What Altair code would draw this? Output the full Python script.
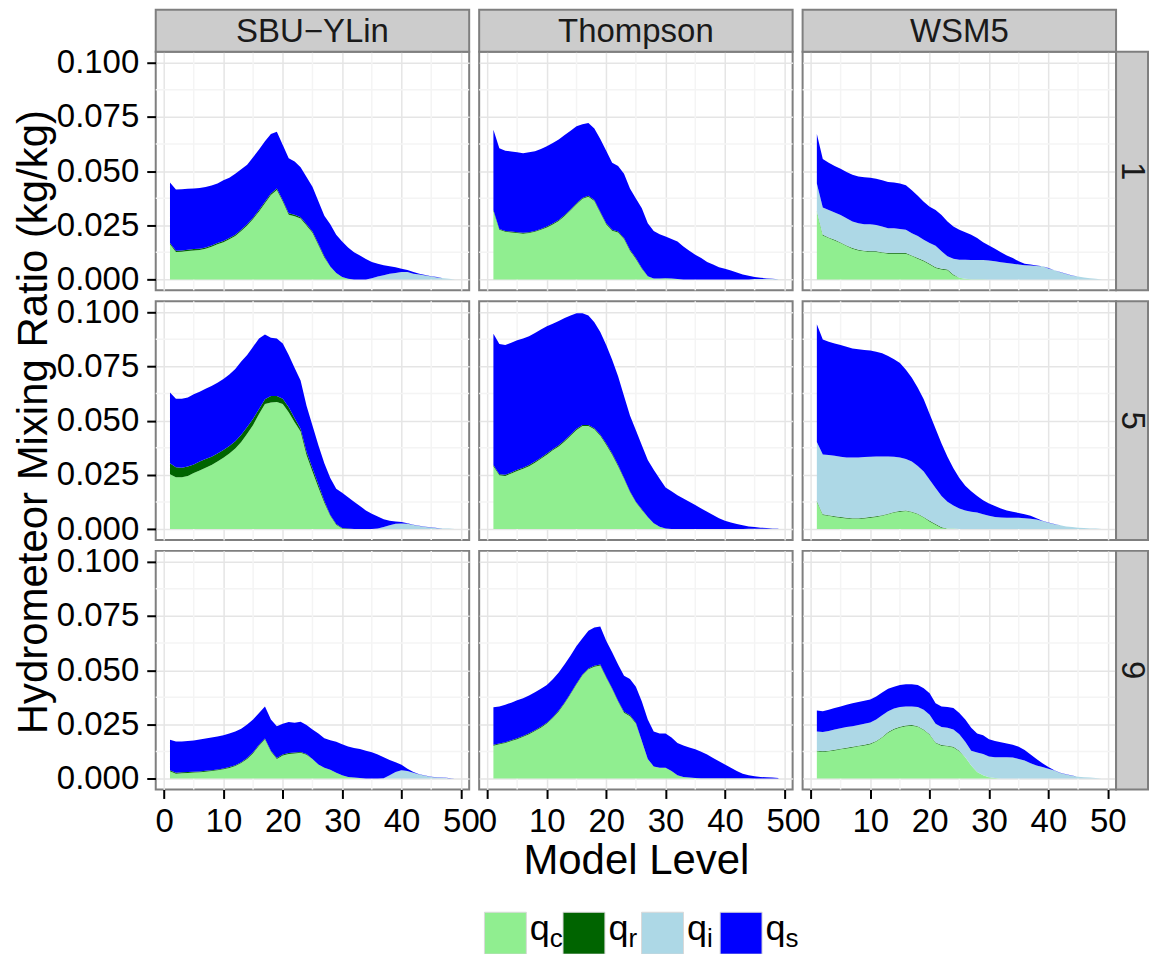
import altair as alt
import pandas as pd

# ---------------------------------------------------------------------------
# Hydrometeor mixing ratios (units of 1e-3 kg/kg) for model levels 1..49
# ---------------------------------------------------------------------------
SCHEMES = ["SBU\u2212YLin", "Thompson", "WSM5"]
TIMES = ["1", "5", "9"]
SPECIES = ["qc", "qr", "qi", "qs"]
SPECIES_SUB = ["c", "r", "i", "s"]
COLORS = ["#90EE90", "#006400", "#ADD8E6", "#0000FF"]
LEVELS = list(range(1, 50))

X_TICKS = [0, 10, 20, 30, 40, 50]
X_MINOR = [5, 15, 25, 35, 45]
Y_TICKS = [0.0, 0.025, 0.05, 0.075, 0.1]
Y_MINOR = [0.0125, 0.0375, 0.0625, 0.0875]

# SBU-YLin, time 1
SBU_1_QC = [16.2, 12.7, 12.8, 13.1, 13.4, 13.6, 14.2, 15.1, 16.2, 17.2,
            18.5, 20.0, 22.3, 24.9, 27.9, 31.4, 35.2, 39.0, 41.3, 35.9,
            29.9, 29.2, 28.1, 24.9, 21.5, 15.9, 10.1, 6.0, 3.0, 1.2,
            0.3, 0, 0, 0, 0, 0, 0, 0, 0, 0,
            0, 0, 0, 0, 0, 0, 0, 0, 0]
SBU_1_QR = [0.6] * 27 + [0] * 22
SBU_1_QI = [0] * 34 + [0.6, 1.4, 2.0, 2.6, 3.0, 3.4, 3.4, 2.7, 2.3, 1.8,
                       1.4, 0.9, 0.6, 0.3, 0.0]
SBU_1_QS = [27.9, 28.2, 28.2, 28.1, 27.9, 28.0, 27.8, 27.6, 27.4, 27.9,
            27.8, 28.2, 27.9, 27.4, 27.9, 27.9, 27.9, 27.5, 26.2, 25.5,
            25.4, 24.6, 23.1, 21.7, 20.6, 19.6, 18.7, 19.5, 17.6, 16.3,
            14.5, 12.6, 11.0, 9.4, 7.5, 5.8, 4.6, 3.5, 2.6, 1.6,
            1.0, 0.8, 0.4, 0.3, 0.1, 0.2, 0, 0, 0]

# Thompson, time 1
THO_1_QC = [31.6, 22.9, 22.0, 21.7, 21.4, 21.1, 21.4, 22.0, 22.9, 24.0,
            25.4, 27.0, 29.3, 31.9, 34.7, 37.2, 38.2, 36.2, 30.8, 25.5,
            22.5, 21.7, 18.7, 13.3, 9.5, 4.9, 1.5, 0.5, 0.4, 0.6,
            0.5, 0.2, 0, 0, 0, 0, 0, 0, 0, 0,
            0, 0, 0, 0, 0, 0, 0, 0, 0]
THO_1_QR = [0.4] * 26 + [0] * 23
THO_1_QI = [0] * 44 + [0.2, 0.2, 0.2, 0.2, 0.1]
THO_1_QS = [37.0, 37.2, 37.0, 36.9, 36.9, 36.7, 36.9, 36.7, 36.9, 37.0,
            37.1, 37.1, 36.9, 36.3, 35.5, 34.0, 33.5, 33.0, 33.6, 33.5,
            30.9, 30.2, 29.7, 28.2, 27.4, 27.5, 24.4, 21.9, 20.5, 19.2,
            18.2, 17.3, 15.2, 13.3, 11.4, 9.9, 8.1, 6.9, 5.6, 4.9,
            4.1, 3.2, 2.3, 1.7, 1.0, 0.6, 0.3, 0.1, 0.0]

# WSM5, time 1
WSM_1_QC = [31.2, 20.3, 19.1, 18.0, 16.8, 15.4, 14.2, 13.4, 13.0, 12.7,
            12.7, 12.3, 11.9, 11.9, 11.9, 11.9, 10.8, 9.6, 8.4, 6.9,
            5.3, 4.6, 4.3, 2.0, 0.8, 0.3, 0.1, 0.1, 0.1, 0,
            0, 0, 0, 0, 0, 0, 0, 0, 0, 0,
            0, 0, 0, 0, 0, 0, 0, 0, 0]
WSM_1_QR = [0.3] * 24 + [0] * 25
WSM_1_QI = [12.7, 12.6, 12.6, 12.6, 12.6, 12.5, 12.2, 12.2, 12.2, 12.5,
            12.1, 11.8, 11.4, 11.4, 11.1, 10.7, 10.2, 10.2, 9.6, 9.6,
            9.9, 8.1, 6.1, 7.3, 8.3, 8.8, 8.9, 8.9, 8.9, 8.8,
            8.4, 7.9, 7.6, 7.3, 6.9, 6.6, 6.4, 6.2, 6.1, 5.1,
            4.2, 3.3, 2.5, 1.7, 1.4, 0.9, 0.6, 0.3, 0.0]
WSM_1_QS = [22.9, 22.4, 21.8, 21.4, 21.4, 21.3, 21.6, 21.6, 21.6, 21.4,
            21.4, 21.3, 21.4, 21.1, 20.9, 20.5, 19.8, 18.5, 17.5, 16.7,
            16.5, 16.7, 16.0, 14.8, 13.8, 12.7, 11.6, 10.1, 8.2, 6.9,
            5.8, 4.7, 3.5, 2.6, 1.5, 0.7, 0.5, 0.2, 0.0, 0.2,
            0.1, 0.1, 0.1, 0.1, 0, 0, 0, 0, 0]

# SBU-YLin, time 5
SBU_5_QC = [25.3, 23.9, 23.9, 24.5, 25.8, 27.0, 28.3, 29.5, 31.1, 32.9,
            34.8, 37.1, 40.1, 43.9, 48.0, 53.0, 57.6, 58.3, 58.6, 57.6,
            53.8, 49.2, 45.0, 34.1, 26.5, 19.2, 12.1, 6.1, 2.0, 0.3,
            0, 0, 0, 0, 0, 0, 0, 0, 0, 0,
            0, 0, 0, 0, 0, 0, 0, 0, 0]
SBU_5_QR = [5.0, 4.6, 4.4, 4.3, 4.0, 4.1, 4.0, 3.8, 3.7, 3.5,
            3.5, 3.4, 3.4, 3.1, 2.8, 2.3, 2.2, 3.0, 2.8, 2.5,
            2.3, 1.9, 1.2, 1.5, 1.5, 1.3, 0.8, 0.4, 0.3, 0.2,
            0.2, 0, 0, 0, 0, 0, 0, 0, 0, 0,
            0, 0, 0, 0, 0, 0, 0, 0, 0]
SBU_5_QI = [0] * 35 + [0.3, 1.0, 1.8, 2.4, 2.6, 2.4, 1.9, 1.4, 1.0, 0.7,
                       0.4, 0.3, 0.2, 0.0]
SBU_5_QS = [32.6, 31.6, 31.8, 31.8, 32.3, 32.2, 32.4, 32.6, 32.6, 32.8,
            32.9, 33.3, 33.8, 33.3, 33.3, 32.6, 29.9, 26.9, 26.5, 25.5,
            24.2, 23.1, 22.3, 21.2, 19.7, 18.1, 17.4, 17.0, 16.3, 16.2,
            14.5, 12.6, 10.6, 8.6, 7.1, 5.5, 3.5, 2.0, 1.1, 0.7,
            0.3, 0.1, 0.1, 0.1, 0.1, 0.1, 0, 0, 0]

# Thompson, time 5
THO_5_QC = [29.0, 24.8, 24.5, 25.6, 26.8, 27.8, 29.0, 30.6, 32.4, 34.3,
            36.3, 38.1, 40.4, 43.0, 45.7, 47.5, 47.5, 46.0, 43.0, 38.9,
            34.3, 29.0, 23.2, 17.1, 12.3, 8.8, 5.6, 2.7, 1.1, 0.2,
            0, 0, 0, 0, 0, 0, 0, 0, 0, 0,
            0, 0, 0, 0, 0, 0, 0, 0, 0]
THO_5_QR = [0.5] * 22 + [0.3] * 4 + [0] * 23
THO_5_QI = [0] * 43 + [0.1, 0.1, 0.1, 0.1, 0.1, 0.0]
THO_5_QS = [60.6, 60.0, 59.8, 59.8, 59.8, 59.6, 59.4, 59.3, 59.1, 58.7,
            57.9, 57.3, 56.4, 55.0, 53.3, 51.5, 50.5, 48.9, 47.4, 45.4,
            43.2, 40.9, 37.9, 34.9, 32.9, 29.5, 26.2, 24.6, 22.1, 19.0,
            17.4, 15.6, 14.1, 12.6, 11.1, 9.5, 8.0, 6.5, 5.0, 3.8,
            3.0, 2.3, 1.7, 1.1, 0.8, 0.5, 0.4, 0.2, 0.1]

# WSM5, time 5
WSM_5_QC = [12.6, 6.5, 6.1, 5.6, 5.2, 4.9, 4.7, 4.7, 4.9, 5.2,
            5.6, 6.1, 6.8, 7.6, 8.0, 8.3, 7.7, 6.8, 5.3, 3.5,
            2.0, 0.5, 0.3, 0.2, 0, 0, 0, 0, 0, 0,
            0, 0, 0, 0, 0, 0, 0, 0, 0, 0,
            0, 0, 0, 0, 0, 0, 0, 0, 0]
WSM_5_QR = [0.3] * 22 + [0] * 27
WSM_5_QI = [27.2, 27.6, 27.7, 27.9, 27.8, 27.8, 28.0, 28.0, 28.0, 27.8,
            27.6, 27.1, 26.4, 25.4, 24.7, 23.7, 23.1, 22.0, 20.9, 18.9,
            16.6, 14.4, 12.3, 10.7, 9.5, 8.6, 8.0, 7.6, 6.8, 6.1,
            5.6, 5.3, 5.2, 5.2, 5.2, 5.0, 4.8, 4.4, 3.7, 2.9,
            2.2, 1.7, 1.2, 0.9, 0.6, 0.5, 0.3, 0.2, 0.0]
WSM_5_QS = [54.3, 53.0, 52.3, 51.8, 51.5, 51.1, 50.3, 49.9, 49.4, 49.0,
            48.3, 47.6, 46.3, 45.0, 43.5, 41.2, 38.6, 36.0, 33.3, 30.3,
            27.3, 24.2, 20.7, 17.1, 14.0, 11.4, 9.4, 7.6, 6.5, 5.7,
            5.0, 4.2, 3.4, 2.8, 2.2, 1.8, 1.3, 0.6, 0.1, 0.1,
            0.1, 0, 0, 0, 0, 0, 0, 0, 0]

# SBU-YLin, time 9
SBU_9_QC = [3.4, 2.3, 2.5, 2.6, 2.8, 2.9, 3.2, 3.5, 3.8, 4.3,
            4.9, 5.8, 7.2, 9.1, 11.7, 15.2, 18.1, 12.5, 9.1, 10.7,
            11.4, 11.6, 11.9, 11.0, 9.1, 6.5, 5.0, 4.1, 2.7, 1.5,
            0.8, 0.5, 0.3, 0.1, 0, 0, 0, 0, 0, 0,
            0, 0, 0, 0, 0, 0, 0, 0, 0]
SBU_9_QR = [0.4] * 24 + [0] * 25
SBU_9_QI = [0] * 36 + [0.2, 1.5, 3.0, 3.8, 3.5, 2.7, 1.9, 1.3, 0.8, 0.5,
                       0.4, 0.2, 0.0]
SBU_9_QS = [14.1, 14.4, 14.2, 14.3, 14.4, 14.7, 14.9, 15.0, 15.2, 15.3,
            15.5, 15.5, 15.4, 15.5, 15.2, 14.7, 14.8, 14.4, 14.7, 14.2,
            14.3, 13.8, 13.9, 13.3, 13.6, 14.3, 13.6, 13.6, 14.3, 14.4,
            14.0, 13.6, 13.3, 12.8, 12.1, 11.1, 9.6, 7.1, 4.6, 2.6,
            1.0, 0.3, 0.1, 0.1, 0.1, 0.1, 0.1, 0.1, 0.0]

# Thompson, time 9
THO_9_QC = [15.2, 15.8, 16.4, 17.3, 18.2, 19.3, 20.5, 21.9, 23.5, 25.4,
            27.9, 31.0, 34.7, 39.0, 43.5, 47.6, 50.4, 51.6, 52.2, 46.6,
            41.3, 35.5, 30.4, 28.8, 25.4, 17.4, 9.1, 5.6, 5.0, 5.0,
            3.5, 1.5, 0.8, 0.5, 0.3, 0.2, 0.2, 0.2, 0.2, 0.2,
            0.2, 0.2, 0.2, 0.2, 0.1, 0.1, 0.1, 0.0, 0.0]
THO_9_QR = [0.4] * 25 + [0] * 24
THO_9_QI = [0] * 49
THO_9_QS = [17.3, 17.1, 17.3, 17.3, 17.5, 17.4, 17.4, 17.5, 17.5, 17.4,
            17.5, 17.5, 17.6, 17.4, 17.2, 16.7, 17.4, 17.7, 17.5, 16.6,
            16.6, 16.7, 16.6, 16.7, 16.6, 18.2, 18.2, 16.1, 15.8, 15.8,
            15.4, 14.9, 14.5, 13.9, 13.2, 12.2, 10.9, 9.3, 7.8, 6.3,
            4.8, 3.3, 2.1, 1.3, 1.0, 0.7, 0.5, 0.5, 0.3]

# WSM5, time 9
WSM_9_QC = [12.6, 12.3, 12.6, 13.0, 13.5, 13.9, 14.4, 14.9, 15.3, 15.9,
            17.1, 18.9, 21.2, 22.7, 23.6, 24.2, 24.4, 23.9, 22.4, 20.2,
            16.4, 15.2, 14.9, 14.4, 12.6, 9.8, 6.1, 3.0, 1.5, 0.6,
            0.3, 0, 0, 0, 0, 0, 0, 0, 0, 0,
            0, 0, 0, 0, 0, 0, 0, 0, 0]
WSM_9_QR = [0.3] * 25 + [0] * 24
WSM_9_QI = [8.8, 8.9, 9.1, 9.3, 9.4, 9.6, 9.5, 9.5, 9.7, 9.7,
            9.9, 10.0, 9.6, 9.3, 9.1, 8.8, 8.6, 8.8, 9.1, 9.0,
            8.6, 8.3, 8.3, 8.0, 7.6, 7.2, 6.8, 9.0, 9.9, 9.6,
            9.5, 9.8, 9.8, 9.7, 9.1, 8.3, 7.1, 6.1, 5.3, 4.5,
            3.7, 2.6, 1.9, 1.3, 0.9, 0.6, 0.5, 0.3, 0.1]
WSM_9_QS = [9.7, 9.6, 9.8, 10.0, 10.1, 10.3, 10.5, 10.6, 10.6, 10.6,
            10.6, 10.5, 10.3, 10.1, 10.2, 10.2, 10.2, 10.2, 9.9, 9.9,
            9.5, 9.5, 9.5, 9.9, 9.8, 10.3, 10.6, 8.8, 8.6, 8.0,
            7.6, 7.0, 6.4, 5.9, 5.6, 4.9, 4.0, 3.0, 1.8, 0.8,
            0.1, 0.1, 0.1, 0.1, 0, 0, 0, 0, 0]

PANELS = {
    (0, 0): (SBU_1_QC, SBU_1_QR, SBU_1_QI, SBU_1_QS),
    (0, 1): (THO_1_QC, THO_1_QR, THO_1_QI, THO_1_QS),
    (0, 2): (WSM_1_QC, WSM_1_QR, WSM_1_QI, WSM_1_QS),
    (1, 0): (SBU_5_QC, SBU_5_QR, SBU_5_QI, SBU_5_QS),
    (1, 1): (THO_5_QC, THO_5_QR, THO_5_QI, THO_5_QS),
    (1, 2): (WSM_5_QC, WSM_5_QR, WSM_5_QI, WSM_5_QS),
    (2, 0): (SBU_9_QC, SBU_9_QR, SBU_9_QI, SBU_9_QS),
    (2, 1): (THO_9_QC, THO_9_QR, THO_9_QI, THO_9_QS),
    (2, 2): (WSM_9_QC, WSM_9_QR, WSM_9_QI, WSM_9_QS),
}

# ---------------------------------------------------------------------------
# Styling
# ---------------------------------------------------------------------------
FONT = "Liberation Sans"
W, H = 314, 239
STRIP = 42
MAJOR = "#E5E5E5"
MINOR = "#F4F4F4"
BORDER = "#7F7F7F"
STRIP_FILL = "#CCCCCC"
TEXT_SIZE = 33
TITLE_SIZE = 42

X_SCALE = alt.Scale(domain=[-1.4, 51.4], nice=False, zero=False)
Y_SCALE = alt.Scale(domain=[-0.005, 0.105], nice=False, zero=False)
COLOR = alt.Color("species:N", scale=alt.Scale(domain=SPECIES, range=COLORS), legend=None)
PANEL_VIEW = alt.ViewBackground(stroke=BORDER, strokeWidth=2, fill="white")


def panel_frame(values):
    rows = []
    for rank, (sp, series) in enumerate(zip(SPECIES, values)):
        for lev, v in zip(LEVELS, series):
            rows.append({"level": lev, "species": sp, "rank": rank, "value": v / 1000.0})
    return pd.DataFrame(rows)


def x_axis(ri, ci):
    kw = dict(values=X_TICKS, grid=True, gridColor=MAJOR, gridWidth=1.5,
              domain=False, labelFlush=False, labelOverlap=False, title="")
    if ri == 2:
        kw.update(labels=True, ticks=True, tickSize=9, tickWidth=2, tickColor="black",
                  labelFont=FONT, labelFontSize=TEXT_SIZE, labelColor="black",
                  labelPadding=7)
        if ci == 1:
            kw.update(title="Model Level", titleFont=FONT, titleFontSize=TITLE_SIZE,
                      titleFontWeight="normal", titleColor="black", titleX=W / 2,
                      titleY=84, titleBaseline="alphabetic", titleAlign="center",
                      titleAngle=0)
    else:
        kw.update(labels=False, ticks=False)
    return alt.Axis(**kw)


def y_axis(ri, ci):
    kw = dict(values=Y_TICKS, grid=True, gridColor=MAJOR, gridWidth=1.5,
              domain=False, title="")
    if ci == 0:
        kw.update(labels=True, ticks=True, tickSize=9, tickWidth=2, tickColor="black",
                  labelFont=FONT, labelFontSize=TEXT_SIZE, labelColor="black",
                  labelPadding=8, format=".3f")
        if ri == 1:
            kw.update(title="Hydrometeor Mixing Ratio (kg/kg)", titleFont=FONT,
                      titleFontSize=TITLE_SIZE, titleFontWeight="normal",
                      titleColor="black", titleX=-109, titleY=H / 2 + 1,
                      titleAngle=270, titleBaseline="alphabetic",
                      titleAlign="center", titleLimit=2000)
    else:
        kw.update(labels=False, ticks=False)
    return alt.Axis(**kw)


def panel(ri, ci):
    df = panel_frame(PANELS[(ri, ci)])
    xa = x_axis(ri, ci)
    ya = y_axis(ri, ci)
    layers = []

    # minor grid lines, drawn under the stacked areas
    vminor = alt.Chart(pd.DataFrame({"level": X_MINOR})).mark_rule(
        color=MINOR, strokeWidth=1.5
    ).encode(x=alt.X("level:Q", scale=X_SCALE, axis=xa))
    hminor = alt.Chart(pd.DataFrame({"value": Y_MINOR})).mark_rule(
        color=MINOR, strokeWidth=1.5
    ).encode(y=alt.Y("value:Q", scale=Y_SCALE, axis=ya))
    layers += [vminor, hminor]

    area = alt.Chart(df).mark_area(interpolate="linear").encode(
        x=alt.X("level:Q", scale=X_SCALE, axis=xa),
        y=alt.Y("value:Q", stack="zero", scale=Y_SCALE, axis=ya),
        color=COLOR,
        order=alt.Order("rank:Q", sort="ascending"),
    )
    layers.append(area)

    if ri == 0:
        top = pd.DataFrame({"label": [SCHEMES[ci]]})
        layers.append(
            alt.Chart(top).mark_rect(fill=STRIP_FILL, stroke=BORDER, strokeWidth=2).encode(
                x=alt.value(0), x2=alt.value(W), y=alt.value(-STRIP), y2=alt.value(0)
            )
        )
        layers.append(
            alt.Chart(top).mark_text(font=FONT, fontSize=TEXT_SIZE, color="#1A1A1A",
                                     align="center", baseline="alphabetic").encode(
                x=alt.value(W / 2), y=alt.value(-9.5), text="label:N"
            )
        )
    if ci == 2:
        side = pd.DataFrame({"label": [TIMES[ri]]})
        layers.append(
            alt.Chart(side).mark_rect(fill=STRIP_FILL, stroke=BORDER, strokeWidth=2).encode(
                x=alt.value(W), x2=alt.value(W + 32), y=alt.value(0), y2=alt.value(H)
            )
        )
        layers.append(
            alt.Chart(side).mark_text(font=FONT, fontSize=TEXT_SIZE, color="#1A1A1A",
                                      align="center", baseline="alphabetic",
                                      angle=90).encode(
                x=alt.value(W + 6), y=alt.value(H / 2), text="label:N"
            )
        )
    if ri == 0 and ci == 0:
        # invisible corner marker fixing the page origin
        layers.append(
            alt.Chart(pd.DataFrame({"k": [0]})).mark_rect(opacity=0).encode(
                x=alt.value(-155), x2=alt.value(-154),
                y=alt.value(-49.3), y2=alt.value(-48.3)
            )
        )

    return alt.layer(*layers).properties(width=W, height=H, view=PANEL_VIEW)


# ---------------------------------------------------------------------------
# Legend row (keys with subscripted labels)
# ---------------------------------------------------------------------------
LEG_H = 155
leg_df = pd.DataFrame({
    "slot": list(range(len(SPECIES))),
    "species": SPECIES,
    "sub": SPECIES_SUB,
    "q": ["q"] * len(SPECIES),
})
LEG_X = alt.X("slot:Q", scale=alt.Scale(domain=[-0.334, 3.656], nice=False, zero=False),
              axis=None)
keys = alt.Chart(leg_df).mark_square(size=42 * 42, opacity=1, stroke="#D9D9D9",
                                     strokeWidth=1).encode(
    x=LEG_X, y=alt.value(133), color=COLOR
)
q_text = alt.Chart(leg_df).mark_text(font=FONT, fontSize=36, align="left",
                                     baseline="alphabetic", dx=24.5,
                                     color="black").encode(
    x=LEG_X, y=alt.value(139.7), text="q:N"
)
sub_text = alt.Chart(leg_df).mark_text(font=FONT, fontSize=26, align="left",
                                       baseline="alphabetic", dx=44.5,
                                       color="black").encode(
    x=LEG_X, y=alt.value(146.5), text="sub:N"
)
legend = alt.layer(keys, q_text, sub_text).properties(width=W, height=LEG_H)

blank = alt.Chart(pd.DataFrame({"k": [0]})).mark_point(opacity=0).encode(
    x=alt.value(0), y=alt.value(0)
).properties(width=W, height=LEG_H)

cells = [panel(r, c) for r in range(3) for c in range(3)] + [blank, legend]

chart = alt.concat(
    *cells, columns=3, spacing={"row": 11, "column": 10}, bounds="flush", align="each"
).properties(
    padding=0
).configure(
    font=FONT
).configure_view(
    stroke="transparent"
)

chart.save("out.html", embed_options={"renderer": "svg", "actions": False})
